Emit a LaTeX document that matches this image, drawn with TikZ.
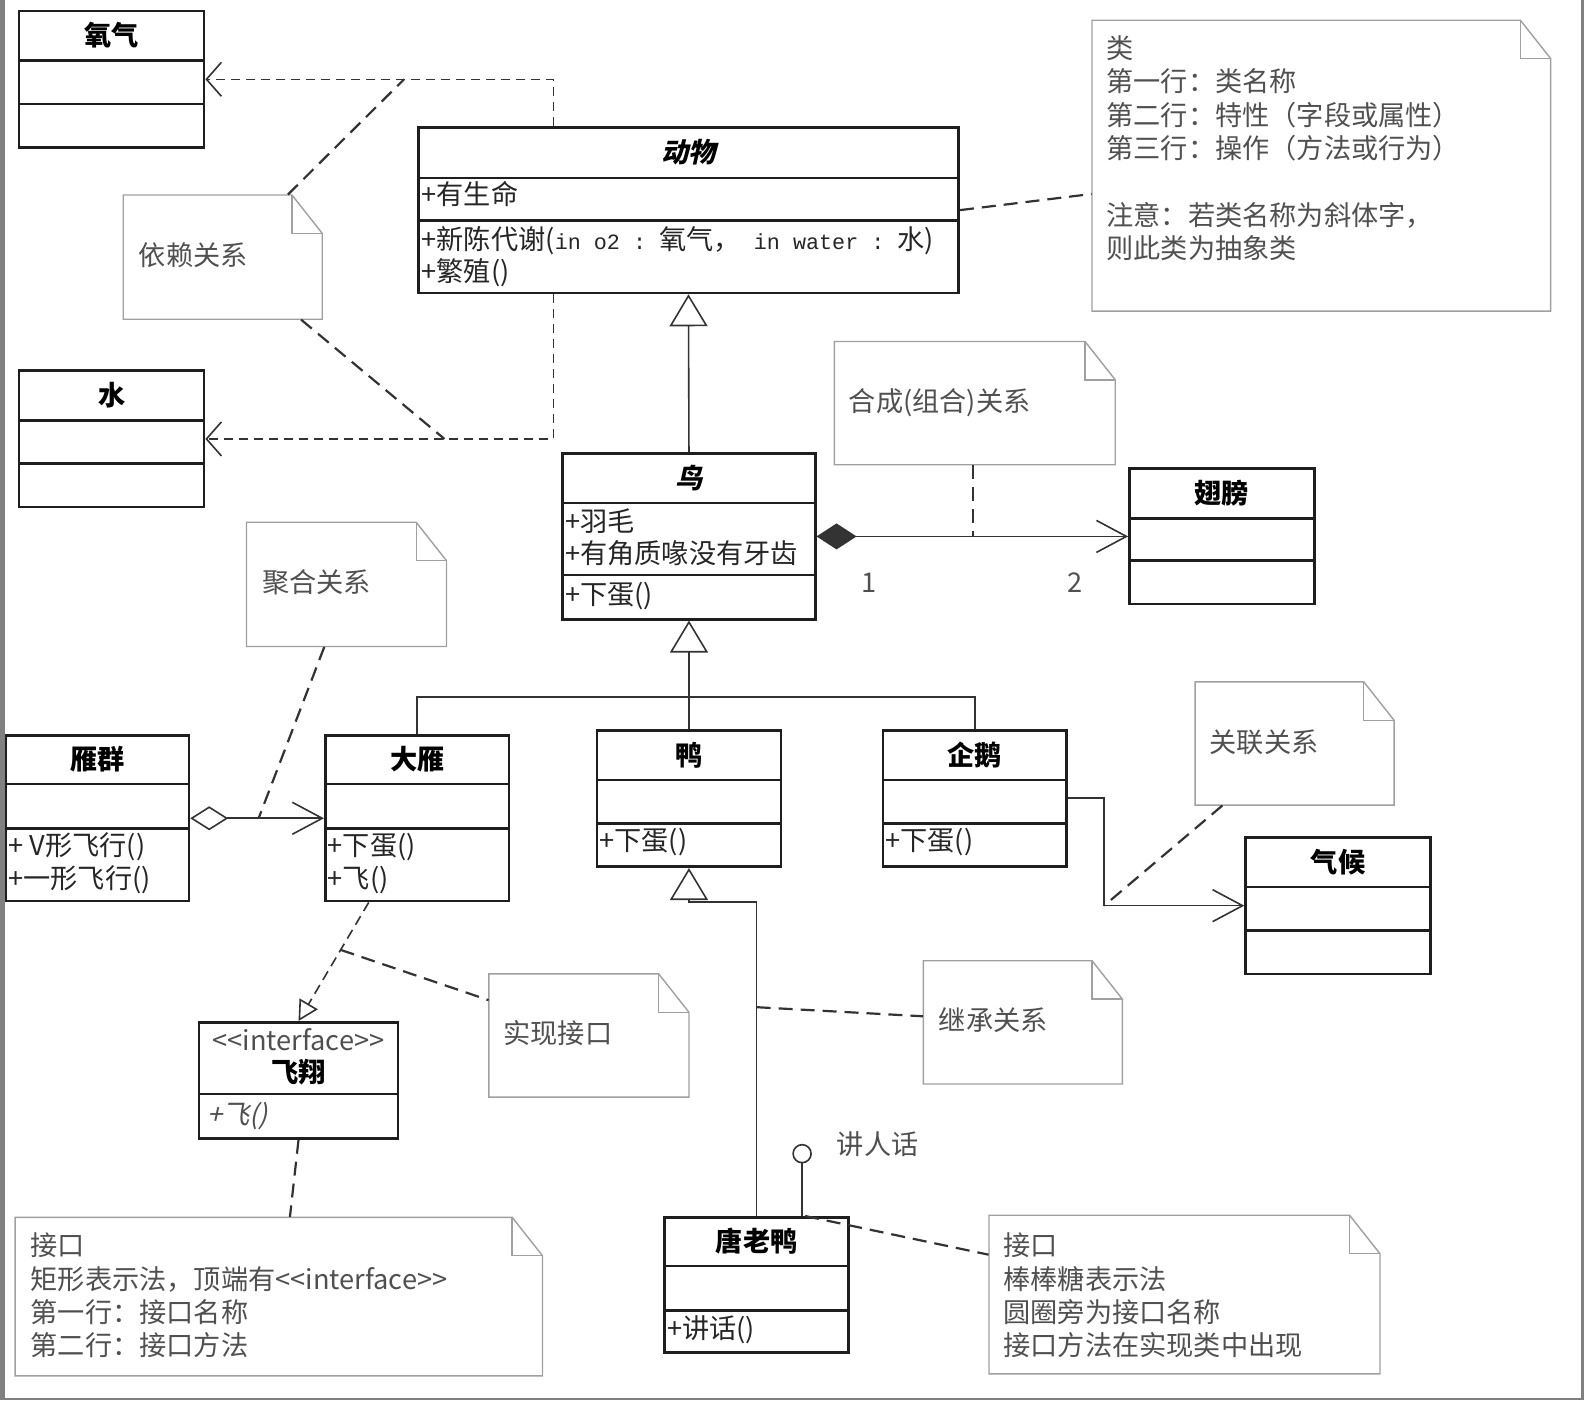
\documentclass[tikz,border=0pt]{standalone}
\usepackage{fontspec}
\setmainfont{Noto Sans CJK SC}
\newfontfamily\slantcjk{Noto Sans CJK SC}[FakeSlant=0.22]
\setmonofont{Liberation Mono}[Scale=0.8]
\usetikzlibrary{arrows.meta,fit,calc}

\definecolor{clsc}{HTML}{1E1E1E}
\definecolor{notebd}{HTML}{A0A0A0}
\definecolor{notetx}{HTML}{505050}
\definecolor{framec}{HTML}{808080}

\newcommand\umlfont{\fontsize{13.6pt}{16.67pt}\selectfont}

\tikzset{
  classbox/.style={draw=clsc, line width=1.3pt, inner sep=0pt, fill=white},
  classline/.style={draw=clsc, line width=1.3pt},
  txt/.style={inner sep=0pt, text height=1.0em, text depth=0em, font=\umlfont},
  member/.style={txt, anchor=west, text=black!85},
  cname/.style={txt, text=black, font=\umlfont\bfseries},
  notebox/.style={draw=notebd, line width=0.7pt, fill=white},
  ntext/.style={txt, anchor=west, text=notetx},
  nmulti/.style={inner sep=0pt, anchor=north west, align=left, text=notetx, font=\umlfont},
  lbl/.style={txt, text=notetx},
  conn/.style={draw=black!80, line width=0.8pt},
  dep/.style={conn, dash pattern=on 4.5pt off 3pt, -{Straight Barb[length=7.5pt,width=17pt]}},
  inh/.style={conn, -{Triangle[open,length=16pt,width=19pt]}},
  comp/.style={conn, {Diamond[length=20pt,width=13pt]}-{Straight Barb[length=15pt,width=16pt]}},
  agg/.style={conn, {Diamond[open,length=19pt,width=12pt]}-{Straight Barb[length=15pt,width=16pt]}},
  assoc/.style={conn, -{Straight Barb[length=15pt,width=16pt]}},
  real/.style={conn, dash pattern=on 5pt off 3pt, -{Triangle[open,length=10pt,width=10.5pt]}},
  notelink/.style={draw=black!80, line width=1.1pt, dash pattern=on 7pt off 4pt},
  lollistyle/.style={circle, draw=black!80, line width=0.8pt, fill=white, minimum size=9pt, inner sep=0pt},
}

% name, x1, y1, x2, y2, divider1, divider2, label
\newcommand\umlclass[8]{%
  \node[classbox, fit={(#2,#3) (#4,#5)}] (#1) {};
  \draw[classline] (#2,#6) -- (#4,#6);
  \draw[classline] (#2,#7) -- (#4,#7);
  \pgfmathsetmacro\umlcx{(#2+#4)/2}%
  \pgfmathsetmacro\umlcy{(#3+#6)/2}%
  \node[cname] (#1-name) at (\umlcx,\umlcy) {#8};
}
% name, x1, y1, x2, y2
\newcommand\umlnote[5]{%
  \node[fit={(#2,#3) (#4,#5)}, inner sep=0pt] (#1) {};
  \draw[notebox] (#2,#3) -- (#4-30,#3) -- (#4,#3+38) -- (#4,#5) -- (#2,#5) -- cycle;
  \draw[notebox, fill=none] (#4-30,#3) -- (#4-30,#3+38) -- (#4,#3+38);
}

\begin{document}
\begin{tikzpicture}[x=0.5051pt, y=-0.5051pt]
\useasboundingbox (0,0) rectangle (1568,1386);
\fill[white] (0,0) rectangle (1568,1386);
\fill[framec] (0,0) rectangle (5,1386);
\fill[framec] (1565,0) rectangle (1568,1386);
\fill[framec] (0,1384) rectangle (1568,1386);

% ---------- notes ----------
\umlnote{classnote}{1081}{20}{1535}{308}
\umlnote{depnote}{122}{193}{319}{316}
\umlnote{compnote}{826}{338}{1104}{460}
\umlnote{aggnote}{244}{517}{442}{640}
\umlnote{assocnote}{1183}{675}{1380}{797}
\umlnote{realnote}{484}{964}{682}{1086}
\umlnote{inhnote}{914}{951}{1111}{1073}
\umlnote{ifnote}{15}{1205}{537}{1362}
\umlnote{lollinote}{979}{1203}{1366}{1360}

\node[nmulti] (classnote-t) at (1095,35) {类\\第一行：类名称\\第二行：特性（字段或属性）\\第三行：操作（方法或行为）\\[16.67pt]注意：若类名称为斜体字，\\则此类为抽象类};
\node[ntext] (depnote-t) at (137,253) {依赖关系};
\node[ntext] (compnote-t) at (840,397) {合成(组合)关系};
\node[ntext] (aggnote-t) at (259,577) {聚合关系};
\node[ntext] (assocnote-t) at (1197,735) {关联关系};
\node[ntext] (realnote-t) at (498,1023) {实现接口};
\node[ntext] (inhnote-t) at (929,1010) {继承关系};
\node[nmulti] (ifnote-t) at (30,1220) {接口\\矩形表示法，顶端有<{}<interface>{}>\\第一行：接口名称\\第二行：接口方法};
\node[nmulti] (lollinote-t) at (993,1220) {接口\\棒棒糖表示法\\圆圈旁为接口名称\\接口方法在实现类中出现};

% ---------- classes ----------
\umlclass{oxygen}{19}{11}{202}{146}{60}{103}{氧气}
\umlclass{water}{19}{367}{202}{502}{416}{459}{水}
\umlclass{animal}{414}{126}{949}{290}{176}{218}{\slantcjk\bfseries 动物}
\umlclass{bird}{557}{449}{807}{613}{498}{569}{\slantcjk\bfseries 鸟}
\umlclass{wing}{1118}{464}{1301}{598}{513}{555}{翅膀}
\umlclass{flock}{6}{728}{187}{892}{776}{820}{雁群}
\umlclass{goose}{322}{728}{504}{892}{776}{820}{大雁}
\umlclass{duck}{591}{723}{773}{858}{772}{815}{鸭}
\umlclass{penguin}{874}{723}{1056}{858}{772}{815}{企鹅}
\umlclass{climate}{1233}{829}{1416}{964}{878}{921}{气候}
\umlclass{donald}{658}{1205}{840}{1339}{1253}{1297}{唐老鸭}

% interface box
\node[classbox, fit={(197,1012) (394,1127)}] (fly) {};
\draw[classline] (197,1083) -- (394,1083);
\node[lbl] (fly-stereo) at (295.5,1030) {<{}<interface>{}>};
\node[cname] (fly-name) at (295.5,1062) {飞翔};
\node[member, text=notetx] (fly-op) at (205,1103) {\slantcjk +飞()};

% members
\node[member] (animal-a1) at (417,193) {+有生命};
\node[member] (animal-o1) at (417,237) {+新陈代谢(\texttt{in o2 : }氧气，\texttt{ in water : }水)};
\node[member] (animal-o2) at (417,269) {+繁殖()};
\node[member] (bird-a1) at (559,516) {+羽毛};
\node[member] (bird-a2) at (559,548) {+有角质喙没有牙齿};
\node[member] (bird-o1) at (559,588) {+下蛋()};
\node[member] (flock-o1) at (8,837) {+ V形飞行()};
\node[member] (flock-o2) at (8,870) {+一形飞行()};
\node[member] (goose-o1) at (324,837) {+下蛋()};
\node[member] (goose-o2) at (324,870) {+飞()};
\node[member] (duck-o1) at (593,832) {+下蛋()};
\node[member] (penguin-o1) at (876,832) {+下蛋()};
\node[member] (donald-o1) at (660,1315) {+讲话()};

% ---------- connectors ----------
% dependency
\draw[dep] (548,0 |- animal.north) |- (oxygen.east);
\draw[dep] (548,0 |- animal.south) |- (water.east);
\draw[notelink] (285,0 |- depnote.north) -- (400,0 |- oxygen.east);
\draw[notelink] (298,0 |- depnote.south) -- (440,0 |- water.east);
% class note
\draw[notelink] (animal.east |- 0,208) -- (classnote.west |- 0,192);
% bird -> animal
\draw[inh] (bird.north) -- (animal.south);
% composition
\draw[comp] (bird.east) -- (wing.west);
\node[lbl] (mult1) at (860,577) {1};
\node[lbl] (mult2) at (1064,577) {2};
\draw[notelink] (963,0 |- compnote.south) -- (963,0 |- bird.east);
% inheritance tree
\coordinate (tree) at (682,690);
\draw[conn] (goose.north) |- (tree) -| (penguin.north);
\draw[inh] (duck.north) -- (bird.south);
% aggregation
\draw[agg] (flock.east) -- (goose.west);
\draw[notelink] (321,0 |- aggnote.south) -- (256,0 |- flock.east);
% association
\coordinate (asc) at (1093,0 |- climate.west);
\draw[assoc] (penguin.east |- 0,790) -| (asc) -- (climate.west);
\draw[notelink] (1210,0 |- assocnote.south) -- (asc);
% realization
\coordinate (rs) at (365,0 |- goose.south);
\draw[real] (rs) -- (fly.north);
\draw[notelink] ($(rs)!0.4!(fly.north)$) -- (realnote.west |- 0,990);
\draw[notelink] (fly.south) -- (287,0 |- ifnote.north);
% donald -> duck
\coordinate (dk) at (682,893);
\draw[inh] (donald.north) |- (dk) -- (duck.south);
\draw[notelink] (donald.north |- 0,997) -- (inhnote.west |- 0,1006);
% lollipop
\node[lollistyle] (lp) at (794,1142) {};
\draw[conn] (lp.south) -- (794,0 |- donald.north);
\node[lbl, anchor=west] (lp-label) at (828,1133) {讲人话};
\draw[notelink] (797,0 |- donald.north) -- (lollinote.west |- 0,1242);
\end{tikzpicture}
\end{document}
